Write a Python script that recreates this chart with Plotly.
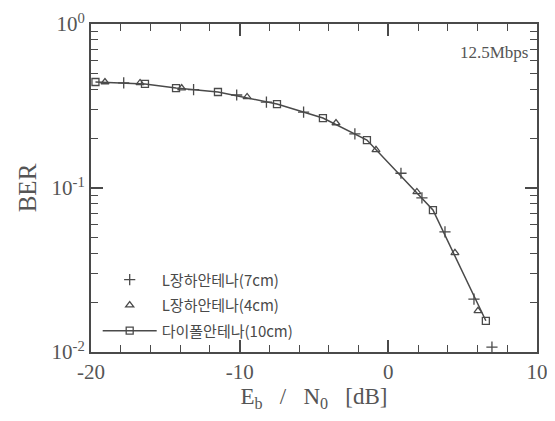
import plotly.graph_objects as go

# L-type antenna 7cm (+)
x_l7 = [-17.8, -13.1, -10.2, -8.2, -5.7, -2.25, 0.85, 2.26, 3.81, 5.76, 6.97]
y_l7 = [0.437, 0.398, 0.369, 0.334, 0.290, 0.214, 0.123, 0.0871, 0.0540, 0.0210, 0.0107]

# L-type antenna 4cm (triangle)
x_l4 = [-19.06, -16.7, -13.9, -9.5, -3.52, -0.83, 1.92, 4.48, 6.03]
y_l4 = [0.443, 0.437, 0.407, 0.359, 0.249, 0.171, 0.0946, 0.0402, 0.0178]

# Dipole antenna 10cm (square, line)
x_dp = [-19.7, -16.37, -14.28, -11.46, -7.49, -4.4, -1.44, 3.0, 6.56]
y_dp = [0.443, 0.431, 0.407, 0.385, 0.325, 0.267, 0.196, 0.0734, 0.0155]

names = ["L장하안테나(7cm)", "L장하안테나(4cm)", "다이폴안테나(10cm)"]
y_major = [0.01, 0.1, 1]
y_major_text = ["10<sup>-2</sup>", "10<sup>-1</sup>", "10<sup>0</sup>"]
y_minor = [m * d for d in (0.01, 0.1) for m in range(2, 10)]
x_major = [-20, -10, 0, 10]
x_major_text = ["-20", "-10", "0", "10"]
x_minor = [v for v in range(-18, 10, 2) if v % 10 != 0]

# all tick positions on the main axes, labels only at the major ones
y_tickvals = y_major + y_minor
y_ticktext = y_major_text + [""] * len(y_minor)
x_tickvals = x_major + x_minor
x_ticktext = x_major_text + [""] * len(x_minor)

ink = "#4a4a4a"
serif = "Liberation Serif, Times New Roman, serif"
X_RANGE = [-20, 10]
Y_RANGE = [-2, 0]

fig = go.Figure()
fig.add_trace(go.Scatter(
    x=x_l7, y=y_l7, mode="markers", name=names[0], legendgroup="a",
    xaxis="x2", yaxis="y2",
    marker=dict(symbol="cross-thin-open", size=8, line=dict(color=ink, width=1.3), color=ink)))
fig.add_trace(go.Scatter(
    x=x_l4, y=y_l4, mode="markers", name=names[1], legendgroup="b",
    marker=dict(symbol="triangle-up-open", size=7, line=dict(color=ink, width=1.3), color=ink)))
fig.add_trace(go.Scatter(
    x=x_dp, y=y_dp, mode="lines+markers", name=names[2], legendgroup="c",
    line=dict(color=ink, width=1.5),
    marker=dict(symbol="square-open", size=7, line=dict(color=ink, width=1.3), color=ink)))

helper_style = dict(showticklabels=False, ticks="inside", ticklen=12, tickwidth=1.5,
                    tickcolor=ink, showline=False, mirror="ticks", showgrid=False,
                    zeroline=False, automargin=False, fixedrange=True, tickmode="array")

fig.update_layout(
    width=547, height=413,
    margin=dict(l=83, r=18, t=16, b=69, autoexpand=False),
    paper_bgcolor="white", plot_bgcolor="white",
    showlegend=True,
    legend=dict(x=0.015, y=0.27, xanchor="left", yanchor="top",
                bgcolor="rgba(0,0,0,0)", tracegroupgap=3, itemwidth=54,
                font=dict(family="Noto Sans CJK KR", size=15, color=ink)),
    annotations=[dict(x=0.985, y=0.913, xref="paper", yref="paper",
                      xanchor="right", yanchor="middle", showarrow=False,
                      text="12.5Mbps",
                      font=dict(family=serif, size=17, color="#555"))],
    xaxis2=dict(overlaying="x", side="bottom", anchor="y2", range=X_RANGE,
                tickvals=x_major, **helper_style),
    yaxis2=dict(overlaying="y", side="left", anchor="x2", type="log", range=Y_RANGE,
                tickvals=y_major, **helper_style),
    xaxis=dict(
        automargin=False, tickmode="array",
        range=X_RANGE, tickvals=x_tickvals, ticktext=x_ticktext,
        ticks="inside", ticklen=7, tickwidth=1.4, tickcolor=ink,
        showline=True, linecolor=ink, linewidth=2, mirror="ticks",
        showgrid=False, zeroline=False,
        tickfont=dict(family=serif, size=21, color="#555"),
        title=dict(text="E<sub>b</sub>   /   N<sub>0</sub>   [dB]", standoff=0,
                   font=dict(family=serif, size=23, color="#555")),
    ),
    yaxis=dict(
        automargin=False, tickmode="array",
        type="log", range=Y_RANGE, tickvals=y_tickvals, ticktext=y_ticktext,
        ticks="inside", ticklen=7, tickwidth=1.4, tickcolor=ink,
        showline=True, linecolor=ink, linewidth=2, mirror="ticks",
        showgrid=False, zeroline=False,
        tickfont=dict(family=serif, size=21, color="#555"),
        title=dict(text="BER", standoff=8, font=dict(family=serif, size=25, color="#555")),
    ),
)

fig.write_html("out.html")
